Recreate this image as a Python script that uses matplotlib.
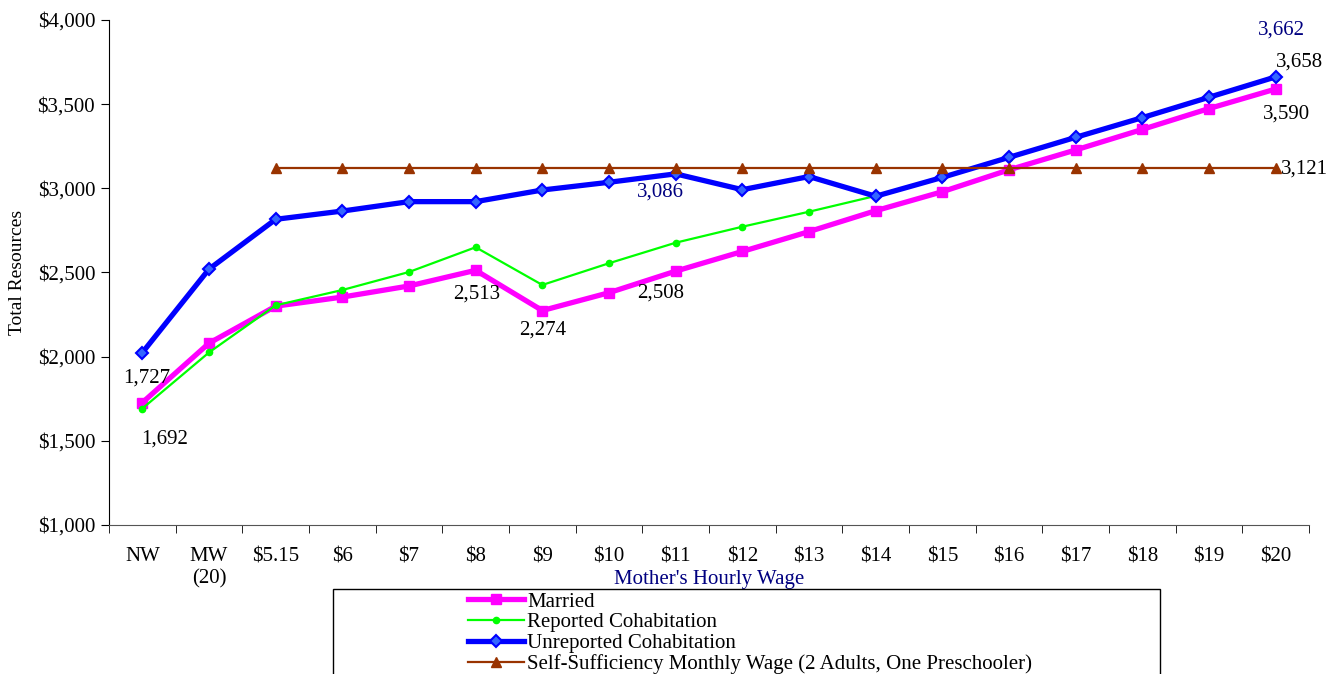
import matplotlib
matplotlib.use("Agg")
import matplotlib.pyplot as plt
from matplotlib.patches import Rectangle
from matplotlib.ticker import FuncFormatter

plt.rcParams['font.family'] = ['Liberation Serif', 'DejaVu Serif']

# veriler
kategoriler = ["NW", "MW\n(20)", "$5.15", "$6", "$7", "$8", "$9", "$10", "$11",
               "$12", "$13", "$14", "$15", "$16", "$17", "$18", "$19", "$20"]
married = [1727, 2080, 2300, 2354, 2420, 2513, 2274, 2380, 2508,
           2625, 2743, 2867, 2980, 3110, 3228, 3350, 3474, 3590]
reported = [1692, 2025, 2305, 2396, 2503, 2650, 2426, 2555, 2677,
            2772, 2861, 2955, 3063, 3182, 3300, 3420, 3540, 3658]
unreported = [2024, 2520, 2816, 2865, 2921, 2921, 2990, 3036, 3086,
              2992, 3070, 2953, 3065, 3184, 3303, 3420, 3541, 3662]
self_suff = [None, None] + [3121] * 16

x = list(range(len(kategoriler)))
x_ss = x[2:]
y_ss = self_suff[2:]

fig = plt.figure(figsize=(13.29, 6.74), dpi=100)
ax = fig.add_axes([109/1329, 1-525/674, 1200/1329, 505/674])

ax.plot(x, married, color='#FF00FF', lw=3.8, marker='s', ms=6.5, label="Married", zorder=3)
ax.plot(x, reported, color='#00FF00', lw=1.6, marker='o', ms=4.5, label="Reported Cohabitation", zorder=4)
ax.plot(x, unreported, color='#0000FF', lw=3.8, marker='D', ms=6.5, mfc='#3366FF', mec='#0000FF',
        mew=1.5, label="Unreported Cohabitation", zorder=5)
ax.plot(x_ss, y_ss, color='#993300', lw=1.6, marker='^', ms=7.5,
        label="Self-Sufficiency Monthly Wage (2 Adults, One Preschooler)", zorder=6)

ax.set_xlim(-0.5, len(kategoriler) - 0.5)
ax.set_ylim(1000, 4000)
ax.set_yticks([1000, 1500, 2000, 2500, 3000, 3500, 4000])
ax.yaxis.set_major_formatter(FuncFormatter(lambda v, p: "${:,.0f}".format(v)))
ax.set_xticks(x)
ax.set_xticklabels(kategoriler)
ax.set_xticks([i - 0.5 for i in range(len(kategoriler) + 1)], minor=True)
ax.tick_params(axis='x', which='major', length=0, pad=16, labelsize=15)
ax.tick_params(axis='x', which='minor', length=6, direction='out')
ax.tick_params(axis='y', length=6, direction='out', pad=4, labelsize=15)
ax.spines['top'].set_visible(False)
ax.spines['right'].set_visible(False)
ax.spines['bottom'].set_color('#555555')

ax.set_ylabel("Total Resources", fontsize=14, labelpad=8)
ax.set_xlabel("Mother's Hourly Wage", fontsize=15, color='#000080', labelpad=-13)

# veri etiketleri
etiketler = [
    (0, married[0], "1,727", (3, 18), 'black'),
    (0, reported[0], "1,692", (16, -22), 'black'),
    (5, married[5], "2,513", (1, -17), 'black'),
    (6, married[6], "2,274", (0, -14), 'black'),
    (8, married[8], "2,508", (-11, -16), 'black'),
    (8, unreported[8], "3,086", (-11, -13), '#000080'),
    (17, unreported[17], "3,662", (4, 34), '#000080'),
    (17, reported[17], "3,658", (17, 11), 'black'),
    (17, married[17], "3,590", (8, -18), 'black'),
    (17, y_ss[-1], "3,121", (21, -1), 'black'),
]
for xi, yi, t, off, c in etiketler:
    ax.annotate(t, xy=(xi, yi), xytext=off, textcoords='offset points',
                ha='center', va='center', fontsize=15, color=c, zorder=10)

# legend kutusu (alt kismi kesik)
fig.patches.append(Rectangle((333/1329, -0.05), 827/1329, 0.05 + (674-589)/674,
                             transform=fig.transFigure, fill=False, edgecolor='black', lw=1))
fig.legend(loc='upper left', bbox_to_anchor=(468/1329, 1-592/674), frameon=False,
           fontsize=15, handlelength=2.7, handletextpad=0.15, labelspacing=0.06,
           borderpad=0, borderaxespad=0)

plt.savefig("out.png", dpi=100)
